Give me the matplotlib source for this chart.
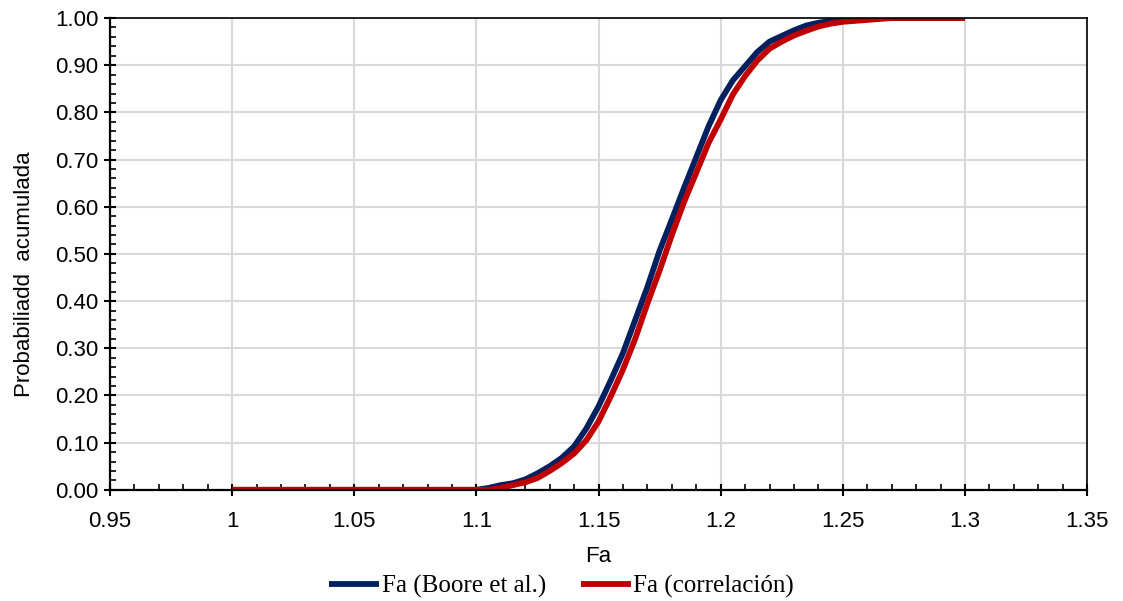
import matplotlib
matplotlib.use("Agg")
import matplotlib.pyplot as plt
from matplotlib.ticker import MultipleLocator, FormatStrFormatter, FuncFormatter

fa_blue = [1.000, 1.050, 1.100, 1.105, 1.110, 1.115, 1.120, 1.125, 1.130, 1.135, 1.140,
           1.145, 1.150, 1.155, 1.160, 1.165, 1.170, 1.175, 1.180, 1.185, 1.190,
           1.195, 1.200, 1.205, 1.210, 1.215, 1.220, 1.225, 1.230, 1.235, 1.240,
           1.245, 1.250, 1.255, 1.260, 1.265, 1.300]
p_blue = [0.000, 0.000, 0.000, 0.004, 0.010, 0.014, 0.022, 0.035, 0.050, 0.068, 0.092,
          0.130, 0.177, 0.232, 0.290, 0.360, 0.430, 0.507, 0.573, 0.640, 0.705,
          0.770, 0.826, 0.868, 0.898, 0.928, 0.950, 0.962, 0.974, 0.984, 0.990,
          0.994, 0.997, 0.998, 0.999, 1.000, 1.000]

fa_red = [1.000, 1.050, 1.100, 1.105, 1.110, 1.115, 1.120, 1.125, 1.130, 1.135, 1.140,
          1.145, 1.150, 1.155, 1.160, 1.165, 1.170, 1.175, 1.180, 1.185, 1.190,
          1.195, 1.200, 1.205, 1.210, 1.215, 1.220, 1.225, 1.230, 1.235, 1.240,
          1.245, 1.250, 1.255, 1.260, 1.265, 1.270, 1.300]
p_red = [0.000, 0.000, 0.000, 0.000, 0.004, 0.010, 0.016, 0.025, 0.040, 0.057, 0.077,
         0.105, 0.145, 0.198, 0.255, 0.320, 0.395, 0.465, 0.540, 0.610, 0.672,
         0.735, 0.785, 0.838, 0.877, 0.910, 0.935, 0.950, 0.963, 0.973, 0.982,
         0.988, 0.992, 0.994, 0.996, 0.998, 1.000, 1.000]

label_blue = "Fa (Boore et al.)"
label_red = "Fa (correlación)"

fig = plt.figure(figsize=(11.23, 6.01), dpi=100)
ax = fig.add_axes([0.098, 0.185, 0.870, 0.785])

ax.plot(fa_blue, p_blue, color="#002060", lw=4.2, label=label_blue, solid_capstyle="butt")
ax.plot(fa_red, p_red, color="#C00000", lw=4.2, label=label_red, solid_capstyle="butt")

ax.set_xlim(0.95, 1.35)
ax.set_ylim(0.0, 1.0)
ax.xaxis.set_major_locator(MultipleLocator(0.05))
ax.xaxis.set_minor_locator(MultipleLocator(0.01))
ax.yaxis.set_major_locator(MultipleLocator(0.1))
ax.yaxis.set_minor_locator(MultipleLocator(0.02))
ax.yaxis.set_major_formatter(FormatStrFormatter("%.2f"))
ax.xaxis.set_major_formatter(FuncFormatter(lambda v, p: ("%.2f" % v).rstrip("0").rstrip(".")))

ax.grid(True, which="major", color="#D9D9D9", lw=1.5)
ax.set_axisbelow(True)

for s in ["left", "bottom"]:
    ax.spines[s].set_linewidth(1.6)
    ax.spines[s].set_color("black")
for s in ["top", "right"]:
    ax.spines[s].set_linewidth(1.2)
    ax.spines[s].set_color("black")

ax.tick_params(which="major", direction="inout", length=9, width=1.5,
               labelsize=16, colors="black", pad=4)
ax.tick_params(axis="x", which="major", pad=11)
ax.tick_params(which="minor", direction="in", length=4, width=1.2, colors="black")
ax.tick_params(top=False, right=False, which="both")
for lab in ax.get_xticklabels() + ax.get_yticklabels():
    lab.set_fontfamily("Liberation Sans")

ax.set_xlabel("Fa", fontsize=16, fontfamily="Liberation Sans", labelpad=10)
ax.set_ylabel("Probabiliadd  acumulada", fontsize=16, fontfamily="Liberation Sans")
ax.yaxis.set_label_coords(-0.077, 0.458)

leg = fig.legend(loc="center", bbox_to_anchor=(0.5, 0.024), ncol=2, frameon=False,
                 prop={"family": "Liberation Serif", "size": 18},
                 handlelength=2.0, handletextpad=0.1, columnspacing=1.4)

fig.savefig("out.png", dpi=100)
